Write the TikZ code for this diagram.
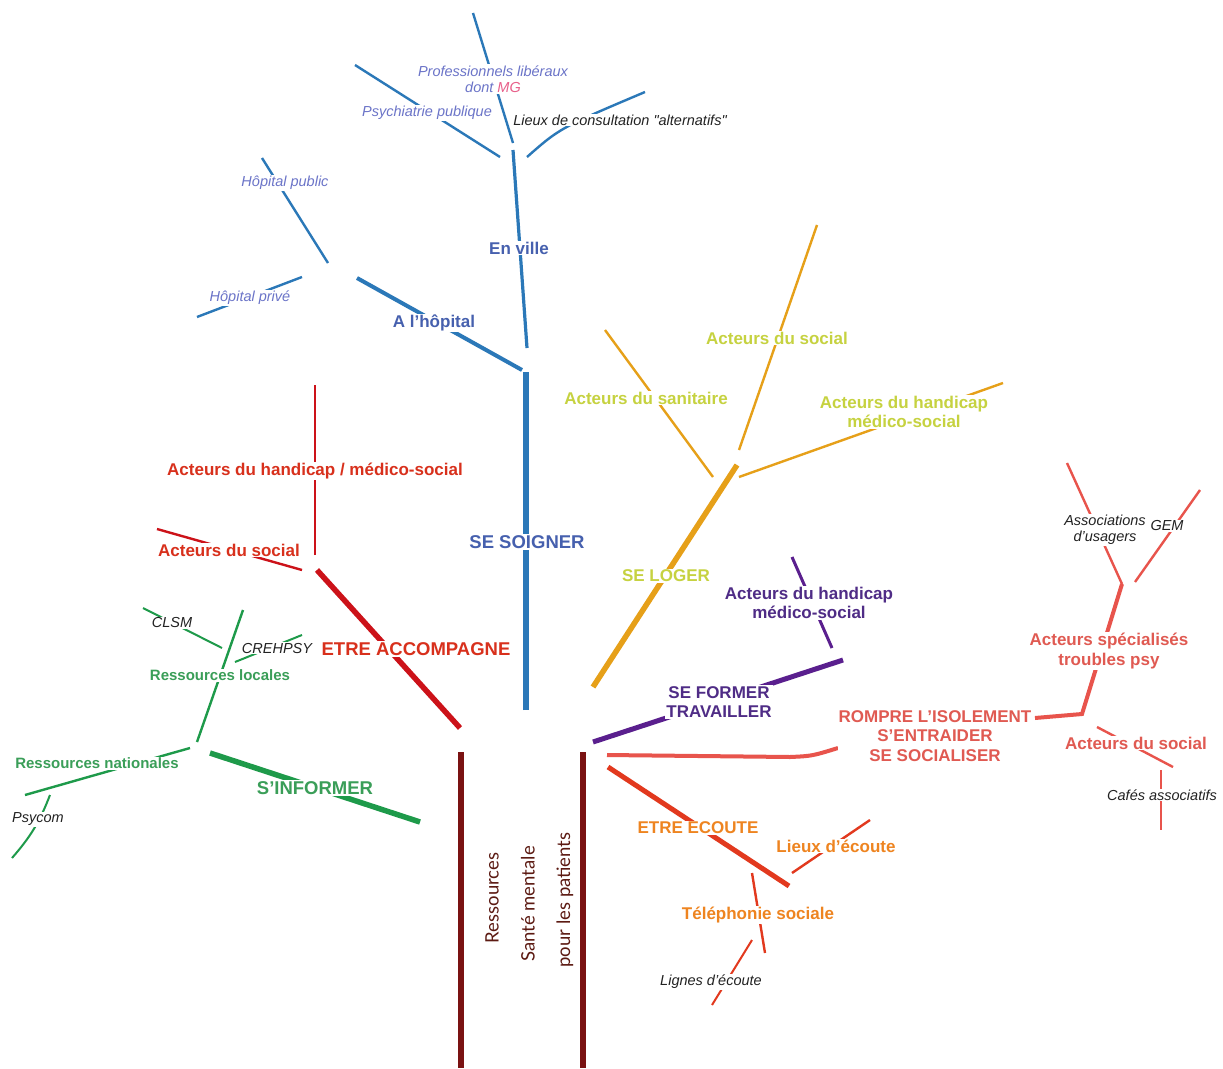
\documentclass[tikz,border=0pt]{standalone}
\usepackage{fontspec}
\setmainfont{Liberation Sans}
\newfontfamily\troncfont{Lato}
\usetikzlibrary{positioning, calc}

\definecolor{bleuL}{HTML}{2B78B8}
\definecolor{bleuT}{HTML}{4660AE}
\definecolor{bleuI}{HTML}{6B74C8}
\definecolor{rose}{HTML}{E8608A}
\definecolor{orL}{HTML}{E6A019}
\definecolor{orT}{HTML}{C6D240}
\definecolor{violL}{HTML}{5A1F8E}
\definecolor{violT}{HTML}{4F2C86}
\definecolor{rougeL}{HTML}{CC1219}
\definecolor{rougeT}{HTML}{D8301C}
\definecolor{vertL}{HTML}{1E9A4A}
\definecolor{vertT}{HTML}{3A9E58}
\definecolor{saumL}{HTML}{E8544C}
\definecolor{saumT}{HTML}{E05A52}
\definecolor{ecL}{HTML}{E2391E}
\definecolor{ecT}{HTML}{EE8420}
\definecolor{tronc}{HTML}{7A1212}
\definecolor{troncT}{HTML}{5C1A12}
\definecolor{noir}{HTML}{222222}

\begin{document}
\begin{tikzpicture}[x=1pt, y=-1pt,
		lab/.style={fill=white, inner sep=1pt, align=center, font=\bfseries\fontsize{17}{19.5}\selectfont},
		big/.style={lab, font=\bfseries\fontsize{18.5}{21}\selectfont},
		small/.style={lab, font=\bfseries\fontsize{15}{17}\selectfont},
		ital/.style={fill=white, inner sep=1pt, align=center, text=noir, font=\itshape\fontsize{14.5}{16.5}\selectfont},
		troncnom/.style={rotate=90, text=troncT, font=\troncfont\fontsize{18.5}{20}\selectfont},
		twig/.style={line width=2.4pt},
		limb/.style={line width=4pt},
		bough/.style={line width=5.5pt}]
		\useasboundingbox[fill=white] (0,0) rectangle (1223,1068);

		% tronc
		\coordinate (tg0) at (461,752);
		\coordinate (tg1) at (461,1068);
		\coordinate (td0) at (583,752);
		\coordinate (td1) at (583,1068);
		\draw[bough, tronc] (tg0) -- (tg1);
		\draw[bough, tronc] (td0) -- (td1);
		\node[troncnom] (t1) at (492,898) {Ressources};
		\node[troncnom] (t2) at (528,904) {Santé mentale};
		\node[troncnom] (t3) at (565,900) {pour les patients};

		% se soigner
		\coordinate (soin0) at (526,710);
		\coordinate (soin1) at (526,372);
		\coordinate (ville0) at (527,348);
		\coordinate (ville1) at (513,150);
		\coordinate (hop0) at (522,370);
		\coordinate (hop1) at (357,278);
		\coordinate (hpub0) at (328,263);
		\coordinate (hpub1) at (262,158);
		\coordinate (hpriv0) at (302,277);
		\coordinate (hpriv1) at (197,317);
		\coordinate (psy0) at (500,157);
		\coordinate (psy1) at (355,65);
		\coordinate (lib0) at (513,143);
		\coordinate (lib1) at (473,13);
		\coordinate (alt0) at (527,157);
		\coordinate (alt1) at (645,92);
		\draw[bough, bleuL] (soin0) -- (soin1);
		\draw[limb, bleuL, line width=3.2pt] (ville0) -- (ville1);
		\draw[limb, bleuL] (hop0) -- (hop1);
		\draw[twig, bleuL] (hpub0) -- (hpub1);
		\draw[twig, bleuL] (hpriv0) -- (hpriv1);
		\draw[twig, bleuL] (psy0) -- (psy1);
		\draw[twig, bleuL] (lib0) -- (lib1);
		\draw[twig, bleuL] (alt0) .. controls (560,128) .. (alt1);
		\node[big, text=bleuT] (soigner) at (527,542) {SE SOIGNER};
		\node[lab, text=bleuT] (ville) at (519,248) {En ville};
		\node[lab, text=bleuT] (hopital) at (434,323) {A l'hôpital};
		\node[ital, text=bleuI] (hpub) at (285,183) {Hôpital public};
		\node[ital, text=bleuI] (hpriv) at (250,298) {Hôpital privé};
		\node[ital, text=bleuI] (psy) at (427,113) {Psychiatrie publique};
		\node[ital, text=bleuI] (lib) at (493,79) {Professionnels libéraux\\dont \textcolor{rose}{MG}};
		\node[ital] (alt) at (620,120) {Lieux de consultation \textquotedbl alternatifs\textquotedbl};

		% se loger
		\coordinate (loge0) at (593,687);
		\coordinate (loge1) at (737,465);
		\coordinate (soc0) at (739,450);
		\coordinate (soc1) at (817,225);
		\coordinate (san0) at (713,477);
		\coordinate (san1) at (605,330);
		\coordinate (hand0) at (739,477);
		\coordinate (hand1) at (1003,383);
		\draw[bough, orL] (loge0) -- (loge1);
		\draw[twig, orL] (soc0) -- (soc1);
		\draw[twig, orL] (san0) -- (san1);
		\draw[twig, orL] (hand0) -- (hand1);
		\node[lab, text=orT] (loger) at (666,576) {SE LOGER};
		\node[lab, text=orT] (soc) at (777,338) {Acteurs du social};
		\node[lab, text=orT] (san) at (646,398) {Acteurs du sanitaire};
		\node[lab, text=orT] (hand) at (904,412) {Acteurs du handicap\\médico-social};

		% se former
		\coordinate (form0) at (593,742);
		\coordinate (form1) at (843,660);
		\coordinate (vh0) at (832,648);
		\coordinate (vh1) at (792,557);
		\draw[limb, violL, line width=5pt] (form0) -- (form1);
		\draw[twig, violL, line width=3pt] (vh0) -- (vh1);
		\node[lab, text=violT] (former) at (719,702) {SE FORMER\\TRAVAILLER};
		\node[lab, text=violT] (vh) at (809,603) {Acteurs du handicap\\médico-social};

		% etre accompagne
		\coordinate (acc0) at (460,728);
		\coordinate (acc1) at (317,570);
		\coordinate (rh0) at (315,555);
		\coordinate (rh1) at (315,385);
		\coordinate (rs0) at (302,570);
		\coordinate (rs1) at (157,529);
		\draw[bough, rougeL] (acc0) -- (acc1);
		\draw[twig, rougeL] (rh0) -- (rh1);
		\draw[twig, rougeL] (rs0) -- (rs1);
		\node[big, text=rougeT] (accomp) at (416,649) {ETRE ACCOMPAGNE};
		\node[lab, text=rougeT] (rh) at (315,471) {Acteurs du handicap / médico-social};
		\node[lab, text=rougeT] (rs) at (229,550) {Acteurs du social};

		% s'informer
		\coordinate (inf0) at (420,822);
		\coordinate (inf1) at (210,753);
		\coordinate (loc0) at (197,742);
		\coordinate (loc1) at (243,610);
		\coordinate (clsm0) at (222,648);
		\coordinate (clsm1) at (143,608);
		\coordinate (creh0) at (235,662);
		\coordinate (creh1) at (302,635);
		\coordinate (nat0) at (190,748);
		\coordinate (nat1) at (25,795);
		\coordinate (psyc0) at (50,795);
		\coordinate (psyc1) at (12,858);
		\draw[bough, vertL] (inf0) -- (inf1);
		\draw[twig, vertL] (loc0) -- (loc1);
		\draw[twig, vertL, line width=2pt] (clsm0) -- (clsm1);
		\draw[twig, vertL, line width=2pt] (creh0) -- (creh1);
		\draw[twig, vertL] (nat0) -- (nat1);
		\draw[twig, vertL, line width=2pt] (psyc0) to[bend left=10] (psyc1);
		\node[big, text=vertT] (informer) at (315,788) {S'INFORMER};
		\node[small, text=vertT] (loc) at (220,675) {Ressources locales};
		\node[small, text=vertT] (nat) at (97,763) {Ressources nationales};
		\node[ital] (clsm) at (172,623) {CLSM};
		\node[ital] (creh) at (277,648) {CREHPSY};
		\node[ital] (psyc) at (38,819) {Psycom};

		% rompre l'isolement
		\coordinate (romp0) at (607,755);
		\coordinate (romp1) at (838,748);
		\coordinate (coude0) at (1035,718);
		\coordinate (coude) at (1082,714);
		\coordinate (spec1) at (1122,584);
		\coordinate (asso1) at (1067,463);
		\coordinate (gem0) at (1135,582);
		\coordinate (gem1) at (1200,490);
		\coordinate (ss0) at (1097,727);
		\coordinate (ss1) at (1173,767);
		\coordinate (caf0) at (1161,770);
		\coordinate (caf1) at (1161,830);
		\draw[limb, saumL] (romp0) -- (790,757) .. controls (812,756) .. (romp1);
		\draw[limb, saumL] (coude0) -- (coude) -- (spec1);
		\draw[twig, saumL] (spec1) -- (asso1);
		\draw[twig, saumL] (gem0) -- (gem1);
		\draw[twig, saumL] (ss0) -- (ss1);
		\draw[twig, saumL] (caf0) -- (caf1);
		\node[lab, text=saumT] (rompre) at (935,736) {ROMPRE L'ISOLEMENT\\S'ENTRAIDER\\SE SOCIALISER};
		\node[lab, text=saumT] (spec) at (1109,651) {Acteurs spécialisés\\troubles psy};
		\node[lab, text=saumT] (ss) at (1136,743) {Acteurs du social};
		\node[ital, font=\itshape\fontsize{14.5}{16}\selectfont] (asso) at (1105,530) {Associations\\d'usagers};
		\node[ital] (gem) at (1167,526) {GEM};
		\node[ital] (caf) at (1162,795) {Cafés associatifs};

		% etre ecoute
		\coordinate (ec0) at (608,767);
		\coordinate (ec1) at (789,886);
		\coordinate (lx0) at (792,873);
		\coordinate (lx1) at (870,820);
		\coordinate (tel0) at (752,873);
		\coordinate (tel1) at (765,953);
		\coordinate (lig0) at (752,940);
		\coordinate (lig1) at (712,1005);
		\draw[bough, ecL, line width=5pt] (ec0) -- (ec1);
		\draw[twig, ecL] (lx0) -- (lx1);
		\draw[twig, ecL] (tel0) -- (tel1);
		\draw[twig, ecL, line width=2pt] (lig0) -- (lig1);
		\node[lab, text=ecT] (ecoute) at (698,828) {ETRE ECOUTE};
		\node[lab, text=ecT] (lx) at (836,846) {Lieux d'écoute};
		\node[lab, text=ecT] (tel) at (758,915) {Téléphonie sociale};
		\node[ital] (lig) at (711,982) {Lignes d'écoute};
	\end{tikzpicture}
\end{document}
